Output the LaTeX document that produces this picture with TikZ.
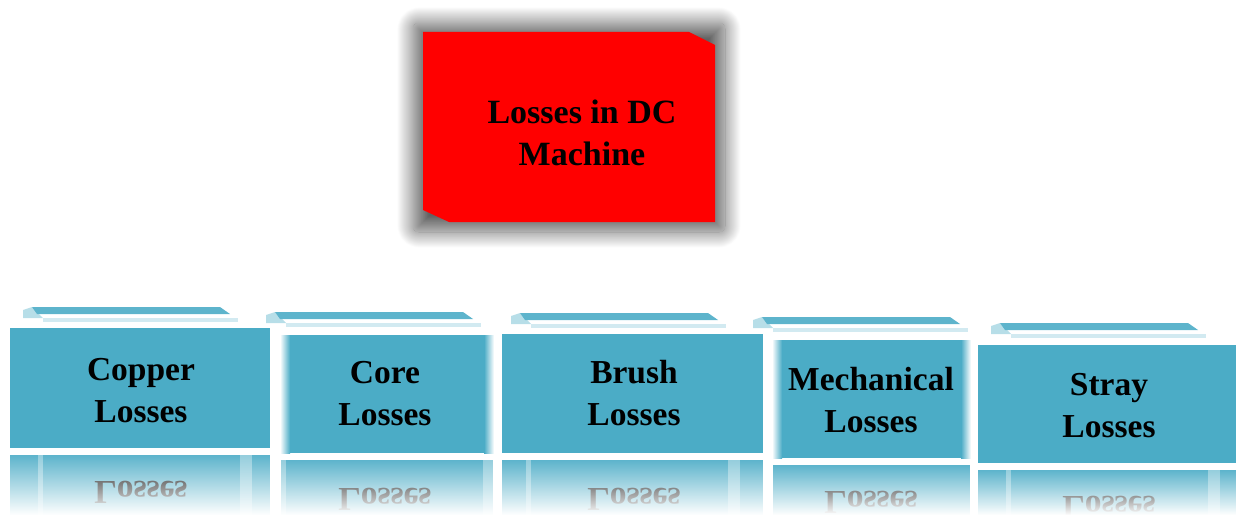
\documentclass[tikz,border=0pt]{standalone}
\usepackage{fontspec}
\setmainfont{Liberation Serif}
\usetikzlibrary{shadows.blur,fadings}
\definecolor{boxteal}{HTML}{4BACC6}
\definecolor{lossred}{HTML}{FF0000}
% transparent at the top, opaque at the bottom
\tikzfading[name=fadedown, top color=transparent!100, middle color=transparent!82, bottom color=transparent!0]
\begin{document}
\begin{tikzpicture}[x=1pt,y=-1pt,
  titletext/.style={font=\fontsize{34}{42}\selectfont\bfseries, inner sep=0pt, anchor=base},
  boxtext/.style={font=\fontsize{33.5}{40}\selectfont\bfseries, inner sep=0pt, anchor=base},
  mirrortext/.style={font=\fontsize{33.5}{40}\selectfont\bfseries, inner sep=0pt, anchor=base, text=black!95},
  lossbox/.style={fill=boxteal, draw=none, inner sep=0pt, rectangle}]
\useasboundingbox (0,0) rectangle (1236,519);

% main box with its soft grey shadow
\path[blur shadow={shadow xshift=0pt, shadow yshift=0pt, shadow blur radius=16pt,
    shadow blur steps=40, shadow blur extra rounding=6pt, shadow opacity=62}]
  (413,23) rectangle (725,232);
\fill[lossred] (423,32) -- (689,32) -- (715,45) -- (715,222) -- (449,222) -- (423,210) -- cycle;
\coordinate (main) at (569,127);
\node[titletext] (main-l1) at (582,123) {Losses in DC};
\node[titletext] (main-l2) at (582,165) {Machine};

% the five loss boxes: name / left / top / right / bottom / lid x / lid y / text x / first baseline / word / soft edges
\foreach \nm/\xa/\ya/\xb/\yb/\lx/\ly/\cx/\ba/\ta/\soft in {
  copper/10/328/270/448/32/307/141/380/Copper/0,
  core/281/335/493/453/275/312/385/383/Core/1,
  brush/502/334/763/453/520/313/634/383/Brush/0,
  mechanical/773/340/970/458/762/317/871/390/Mechanical/1,
  stray/978/345/1236/463/1000/323/1109/395/Stray/0}
{
  \pgfmathsetmacro\bb{\ba+42}
  \pgfmathsetmacro\axis{\yb+3.5}
  \pgfmathsetmacro\rtop{\yb+7}
  \pgfmathsetmacro\mb{2*\axis-\bb}
  \pgfmathsetmacro\w{\xb-\xa}
  \pgfmathsetmacro\h{\yb-\ya}
  % lid
  \fill[boxteal!40] (\lx-9,\ly+3) -- (\lx,\ly) -- (\lx+11,\ly+11) -- (\lx-9,\ly+11) -- cycle;
  \fill[boxteal!90] (\lx,\ly) -- (\lx+188,\ly) -- (\lx+198,\ly+7) -- (\lx+5,\ly+7) -- cycle;
  \fill[boxteal!25] (\lx+11,\ly+11) rectangle (\lx+206,\ly+15);
  % box
  \node[lossbox, minimum width=\w pt, minimum height=\h pt] (\nm) at ({(\xa+\xb)/2},{(\ya+\yb)/2}) {};
  \ifnum\soft=1
    \shade[left color=white, right color=boxteal] (\xa-1,\ya) rectangle (\xa+9,\yb);
    \shade[left color=boxteal, right color=white] (\xb-9,\ya) rectangle (\xb+1,\yb);
  \fi
  \node[boxtext] (\nm-l1) at (\cx,\ba) {\ta};
  \node[boxtext] (\nm-l2) at (\cx,\bb) {Losses};
  % reflection
  \fill[boxteal!90] (\xa,\rtop) rectangle (\xb,519);
  \fill[white, opacity=0.35] (\lx+6,\rtop) rectangle (\lx+11,519);
  \fill[white, opacity=0.35] (\lx+208,\rtop) rectangle (\lx+220,519);
  \node[mirrortext] (\nm-m) at (\cx,\mb) {\scalebox{1}[-1]{Losses}};
  \fill[white, path fading=fadedown] (\xa-1,\rtop) rectangle (\xb+1,515);
  \fill[white] (\xa-1,515) rectangle (\xb+1,519);
}
\end{tikzpicture}
\end{document}
